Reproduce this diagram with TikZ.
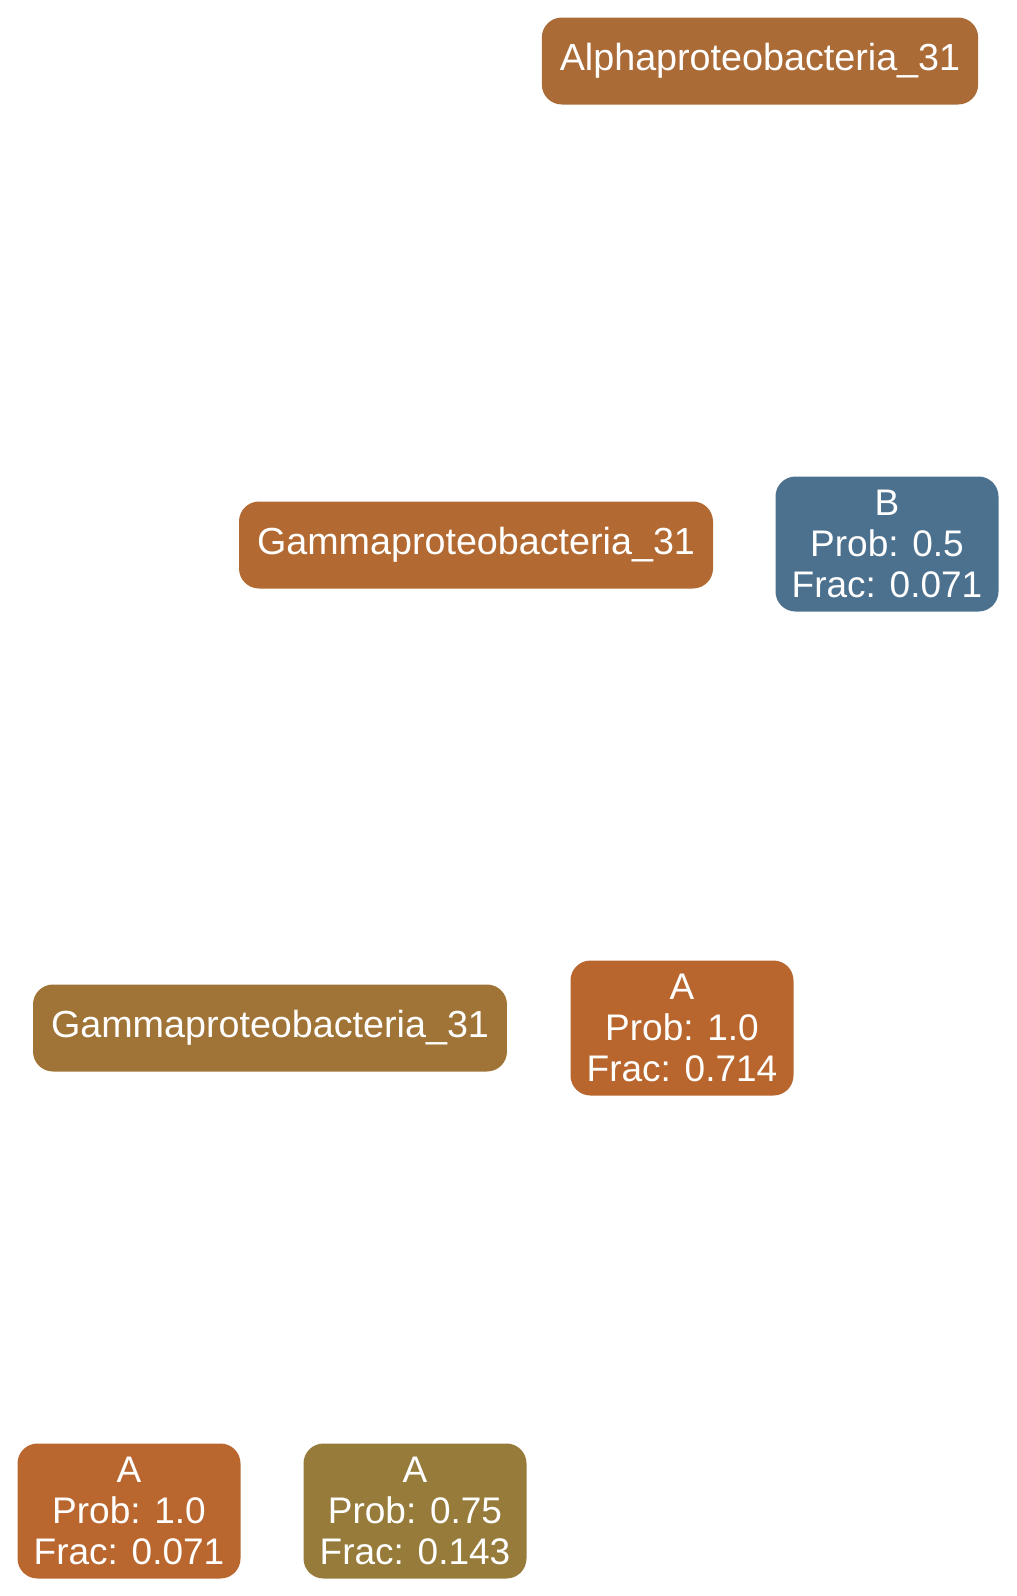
\documentclass[tikz,border=0pt]{standalone}
\usepackage{fontspec}
\setmainfont{Liberation Sans}
\definecolor{alphacol}{HTML}{AB6B37}
\definecolor{gammaone}{HTML}{B36A32}
\definecolor{gammatwo}{HTML}{A07437}
\definecolor{bcol}{HTML}{4C718E}
\definecolor{acolone}{HTML}{B8662E}
\definecolor{acoltwo}{HTML}{B9672F}
\definecolor{acolthree}{HTML}{967B3A}
\begin{document}
\begin{tikzpicture}[x=1pt,y=1pt]

\tikzstyle{taxon} = [rectangle, rounded corners=20pt, minimum height=87pt, inner xsep=18pt, text=white, font=\fontsize{37.7}{41}\selectfont]
\tikzstyle{state} = [rectangle, rounded corners=20pt, minimum width=223pt, minimum height=135pt, inner sep=0pt, align=center, text=white, font=\fontsize{37}{41}\selectfont]

\useasboundingbox (0,0) rectangle (1017,-1596);

\node (alpha) [taxon, fill=alphacol] at (760,-61) {Alphaproteobacteria\_31};
\node (gamma1) [taxon, fill=gammaone] at (476,-545) {Gammaproteobacteria\_31};
\node (stateB) [state, fill=bcol] at (887,-544) {B\\Prob: 0.5\\Frac: 0.071};
\node (gamma2) [taxon, fill=gammatwo] at (270,-1028) {Gammaproteobacteria\_31};
\node (stateA1) [state, fill=acolone] at (682,-1028) {A\\Prob: 1.0\\Frac: 0.714};
\node (stateA2) [state, fill=acoltwo] at (129,-1511) {A\\Prob: 1.0\\Frac: 0.071};
\node (stateA3) [state, fill=acolthree] at (415,-1511) {A\\Prob: 0.75\\Frac: 0.143};

\end{tikzpicture}
\end{document}
